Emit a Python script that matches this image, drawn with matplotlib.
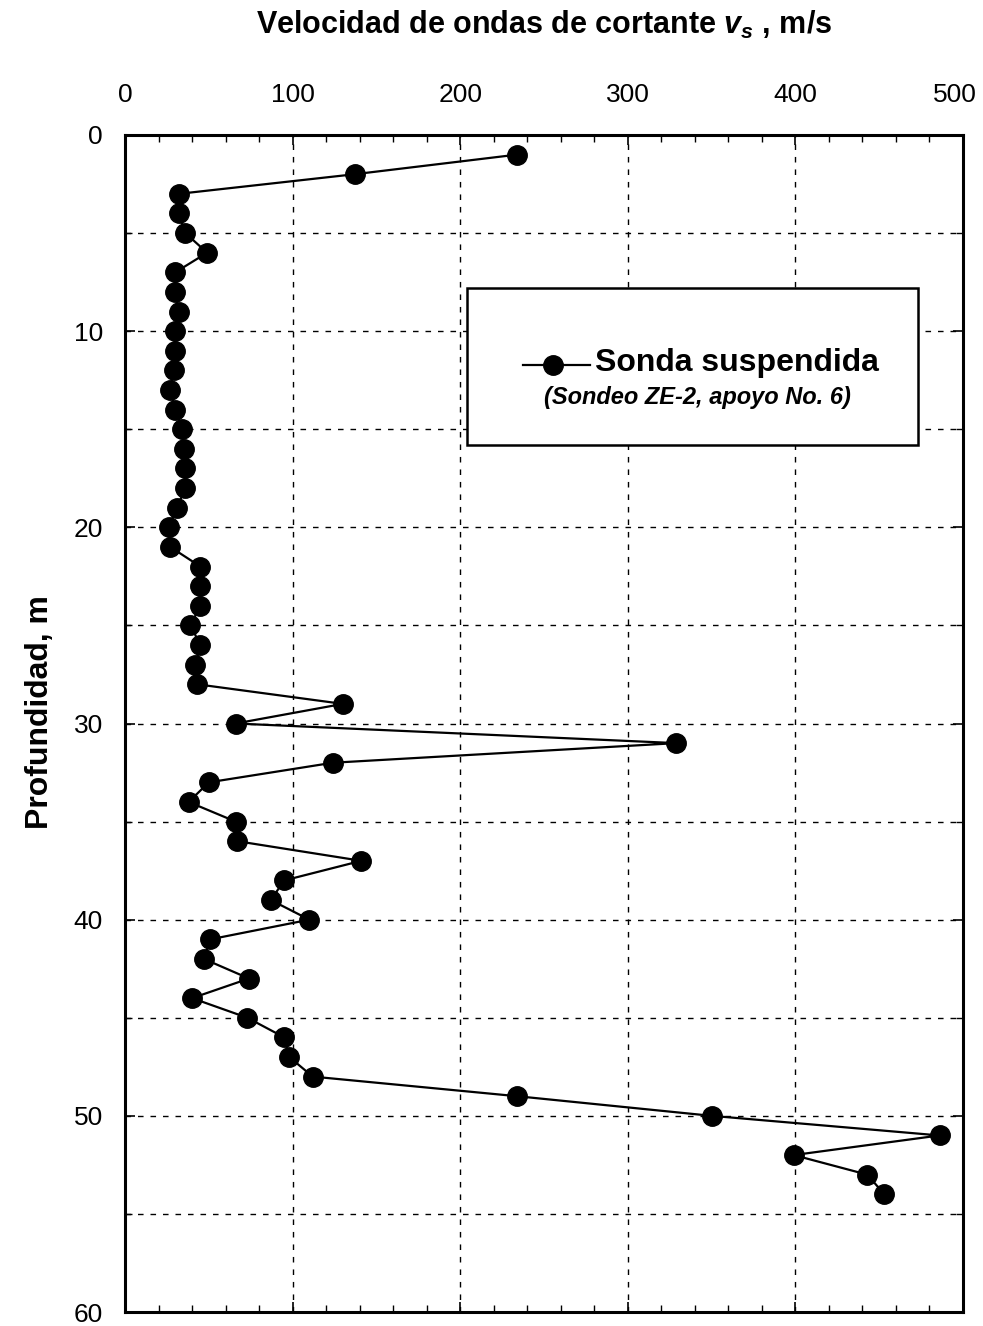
import numpy as np
import matplotlib.pyplot as plt
import matplotlib.transforms as mtransforms
from matplotlib.patches import Rectangle
from matplotlib.lines import Line2D

plt.rcParams['font.family'] = ['Liberation Sans', 'DejaVu Sans']
plt.rcParams['mathtext.fontset'] = 'custom'
plt.rcParams['mathtext.it'] = 'Liberation Sans:italic:bold'
plt.rcParams['mathtext.rm'] = 'Liberation Sans:bold'

# profundidad (m) y velocidad de ondas de cortante (m/s)
depth = list(range(1, 55))
vs = [234, 137, 32, 32, 36, 49, 30, 30, 32, 30,
      30, 29, 27, 30, 34, 35, 36, 36, 31, 26,
      27, 45, 45, 45, 39, 45, 42, 43, 130, 66,
      329, 124, 50, 38, 66, 67, 141, 95, 87, 110,
      51, 47, 74, 40, 73, 95, 98, 112, 234, 350,
      486, 399, 443, 453]

x_ticks = [0, 100, 200, 300, 400, 500]
y_ticks = [0, 10, 20, 30, 40, 50, 60]

W, H = 983, 1326
fig = plt.figure(figsize=(W / 100, H / 100), dpi=100)
ax = fig.add_axes([125 / W, 1 - 1312 / H, 838 / W, 1177 / H])

ax.plot(vs, depth, '-o', color='black', lw=1.6, ms=14, zorder=3)

ax.set_xlim(0, 500)
ax.set_ylim(60, 0)
ax.xaxis.tick_top()
ax.set_xticks(x_ticks)
ax.set_xticks(np.arange(0, 501, 20), minor=True)
ax.set_yticks(y_ticks)
ax.set_yticks(np.arange(0, 61, 5), minor=True)
ax.tick_params(axis='both', which='major', labelsize=19, direction='in',
               length=7, width=1.2, top=True, bottom=True, left=True, right=True)
ax.tick_params(axis='both', which='minor', direction='in', length=5, width=1,
               top=True, bottom=True, left=True, right=True)
ax.tick_params(axis='x', pad=20)
ax.tick_params(axis='y', pad=16)

# la etiqueta 500 queda un poco a la izquierda, como en el original
last = ax.get_xticklabels()[-1]
last.set_transform(last.get_transform() +
                   mtransforms.ScaledTranslation(-8 / 100, 0, fig.dpi_scale_trans))

ax.grid(True, axis='x', which='major', ls=(0, (4, 5)), color='black', lw=1)
ax.grid(True, axis='y', which='both', ls=(0, (4, 5)), color='black', lw=1)
for s in ax.spines.values():
    s.set_linewidth(2.2)

fig.text(544 / W, 1 - 25 / H, 'Velocidad de ondas de cortante $v_s$ , m/s',
         fontsize=22, fontweight='bold', ha='center', va='center')
fig.text(40 / W, 1 - 712 / H, 'Profundidad, m', fontsize=23, fontweight='bold',
         rotation=90, ha='center', va='center')

# recuadro de la leyenda
ax.add_patch(Rectangle((0.408, 0.737), 0.538, 0.133, transform=ax.transAxes,
                       facecolor='white', edgecolor='black', lw=1.8, zorder=4))
ax.add_line(Line2D([0.475, 0.511, 0.555], [0.805, 0.805, 0.805],
                   transform=ax.transAxes, color='black', lw=1.6,
                   marker='o', markevery=[1], ms=14, zorder=5))
ax.text(0.561, 0.806, 'Sonda suspendida', transform=ax.transAxes, fontsize=23,
        fontweight='bold', va='center', ha='left', zorder=6)
ax.text(0.683, 0.777, '(Sondeo ZE-2, apoyo No. 6)', transform=ax.transAxes,
        fontsize=17, fontweight='bold', style='italic', va='center',
        ha='center', zorder=6)

fig.savefig('out.png', dpi=100)
